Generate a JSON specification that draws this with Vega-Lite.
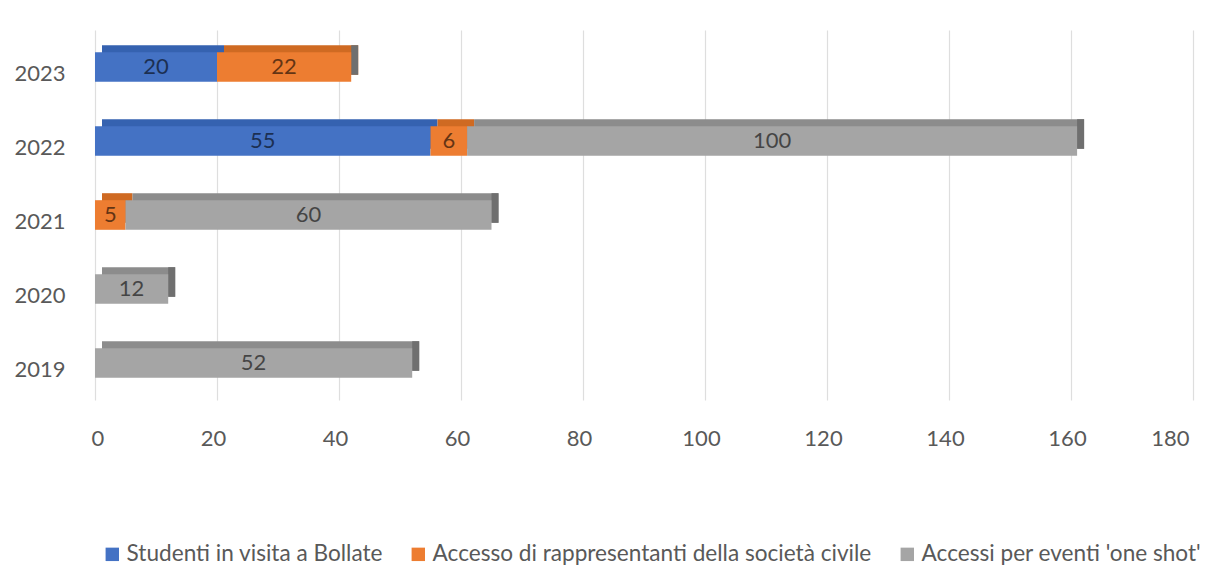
{
  "$schema": "https://vega.github.io/schema/vega-lite/v6.json",
  "width": 1098,
  "height": 370,
  "autosize": {"type": "none"},
  "padding": {"left": 95, "top": 30, "right": 22, "bottom": 169},
  "background": "white",
  "config": {
    "view": {"stroke": null},
    "font": "Lato",
    "axis": {"labelFont": "Lato", "labelFontSize": 22, "labelColor": "#595959", "domain": false, "ticks": false},
    "legend": {"labelFont": "Lato", "labelFontSize": 22.6, "labelColor": "#595959", "labelLimit": 0}
  },
  "data": {
    "values": [
      {"year": "2023", "series": "Studenti in visita a Bollate", "value": 20},
      {"year": "2023", "series": "Accesso di rappresentanti della società civile", "value": 22},
      {"year": "2022", "series": "Studenti in visita a Bollate", "value": 55},
      {"year": "2022", "series": "Accesso di rappresentanti della società civile", "value": 6},
      {"year": "2022", "series": "Accessi per eventi 'one shot'", "value": 100},
      {"year": "2021", "series": "Accesso di rappresentanti della società civile", "value": 5},
      {"year": "2021", "series": "Accessi per eventi 'one shot'", "value": 60},
      {"year": "2020", "series": "Accessi per eventi 'one shot'", "value": 12},
      {"year": "2019", "series": "Accessi per eventi 'one shot'", "value": 52}
    ]
  },
  "encoding": {
    "y": {
      "field": "year",
      "type": "nominal",
      "sort": "descending",
      "title": null,
      "scale": {"paddingInner": 0.6, "paddingOuter": 0.3},
      "axis": {"labelPadding": 30, "labelOffset": 7, "grid": false}
    }
  },
  "layer": [
    {
      "mark": {"type": "bar", "xOffset": 7, "yOffset": -7},
      "encoding": {
        "x": {
          "field": "value",
          "type": "quantitative",
          "stack": "zero",
          "title": null,
          "scale": {"domain": [0, 180]},
          "axis": {"values": [0, 20, 40, 60, 80, 100, 120, 140, 160, 180], "grid": true, "gridColor": "#dedede", "gridWidth": 1.2, "labelPadding": 28, "labelOffset": -4}
        },
        "color": {
          "field": "series",
          "type": "nominal",
          "scale": {
            "domain": ["Studenti in visita a Bollate", "Accesso di rappresentanti della società civile", "Accessi per eventi 'one shot'"],
            "range": ["#3562b0", "#cf6a22", "#8c8c8c"]
          },
          "legend": null
        },
        "order": {"field": "series", "sort": "descending"}
      }
    },
    {
      "transform": [
        {"aggregate": [{"op": "sum", "field": "value", "as": "total"}], "groupby": ["year"]}
      ],
      "mark": {"type": "tick", "xOffset": 3.5, "yOffset": -7, "thickness": 7, "size": 29.6, "color": "#6f6f6f", "opacity": 1},
      "encoding": {
        "x": {"field": "total", "type": "quantitative"}
      }
    },
    {
      "mark": {"type": "bar"},
      "encoding": {
        "x": {"field": "value", "type": "quantitative", "stack": "zero"},
        "color": {
          "field": "series",
          "type": "nominal",
          "title": null,
          "scale": {
            "domain": ["Studenti in visita a Bollate", "Accesso di rappresentanti della società civile", "Accessi per eventi 'one shot'"],
            "range": ["#4472c4", "#ed7d31", "#a5a5a5"]
          },
          "legend": {
            "orient": "none",
            "direction": "horizontal",
            "legendX": 6,
            "legendY": 513,
            "symbolType": "square",
            "symbolSize": 180,
            "symbolStrokeWidth": 0,
            "columnPadding": 24,
            "labelOffset": 3
          }
        },
        "order": {"field": "series", "sort": "descending"}
      }
    },
    {
      "transform": [
        {"stack": "value", "groupby": ["year"], "sort": [{"field": "series", "order": "descending"}], "as": ["v0", "v1"]},
        {"calculate": "(datum.v0 + datum.v1) / 2", "as": "mid"}
      ],
      "mark": {"type": "text", "fontSize": 22, "font": "Lato", "color": "#000000", "opacity": 0.58},
      "encoding": {
        "x": {"field": "mid", "type": "quantitative"},
        "text": {"field": "value", "type": "quantitative"}
      }
    }
  ],
  "resolve": {"scale": {"color": "independent"}}
}
